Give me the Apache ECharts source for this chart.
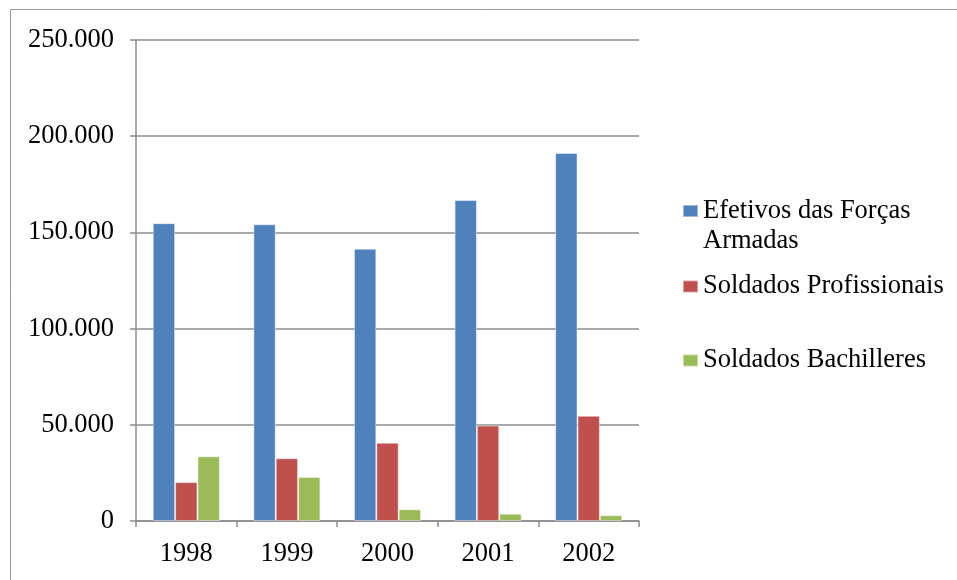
<!DOCTYPE html>
<html>
<head>
<meta charset="utf-8">
<script src="https://cdn.jsdelivr.net/npm/echarts@6/dist/echarts.min.js"></script>
<style>
    html, body { margin: 0; padding: 0; background: #fff; }
    #main { width: 957px; height: 580px; }
</style>
</head>
<body>
<div id="main"></div>
<script>
// anos e valores
var anos = ['1998', '1999', '2000', '2001', '2002'];
var efetivos = [154800, 154200, 141500, 166800, 191300];
var profissionais = [20200, 32600, 40700, 49600, 54700];
var bachilleres = [33600, 22900, 6100, 3800, 3000];

var nomes = ['Efetivos das Forças\nArmadas', 'Soldados Profissionais', 'Soldados Bachilleres'];
var cores = ['#4F81BD', '#C0504D', '#9BBB59'];

var fonte = '"Liberation Serif", "Times New Roman", serif';
var cinza = '#8c8c8c';
var tam = 26.5;

// 150000 -> "150.000"
function milhar(v) {
    return String(v).replace(/\B(?=(\d{3})+(?!\d))/g, '.');
}

var myChart = echarts.init(document.getElementById('main'));

var legendBase = {
    orient: 'vertical',
    left: 682,
    padding: 0,
    itemWidth: 15,
    itemHeight: 12,
    icon: 'rect',
    selectedMode: false,
    textStyle: { fontFamily: fonte, fontSize: tam, color: '#000' }
};

var option = {
    animation: false,
    graphic: [{
        type: 'rect',
        shape: { x: 10.5, y: 9.5, width: 960, height: 600 },
        style: { fill: 'none', stroke: '#999', lineWidth: 1 },
        silent: true
    }],
    legend: [
        Object.assign({}, legendBase, {
            top: 166,
            data: [nomes[0]],
            // linha vazia em cima para o quadrado ficar na altura da primeira linha
            formatter: function (name) { return '\n' + name; },
            textStyle: { fontFamily: fonte, fontSize: tam, color: '#000', lineHeight: 30 }
        }),
        Object.assign({}, legendBase, { top: 273, data: [nomes[1]] }),
        Object.assign({}, legendBase, { top: 347, data: [nomes[2]] })
    ],
    grid: {
        left: 136,
        right: 318,
        top: 40,
        bottom: 59,
        containLabel: false
    },
    xAxis: [{
        type: 'category',
        data: anos,
        axisLine: { lineStyle: { color: cinza, width: 1.5 } },
        axisTick: { show: true, length: 6, lineStyle: { color: cinza, width: 1.5 } },
        axisLabel: { color: '#000', fontFamily: fonte, fontSize: tam, margin: 20 }
    }],
    yAxis: [{
        type: 'value',
        min: 0,
        max: 250000,
        interval: 50000,
        axisLine: { show: true, lineStyle: { color: cinza, width: 1.5 } },
        axisTick: { show: true, length: 6, lineStyle: { color: cinza, width: 1.5 } },
        splitLine: { lineStyle: { color: cinza, width: 1.5 } },
        axisLabel: {
            color: '#000', fontFamily: fonte, fontSize: tam, margin: 22,
            formatter: function (v) { return milhar(v); }
        }
    }],
    series: [
        {
            name: nomes[0], type: 'bar', data: efetivos,
            barGap: 0, barCategoryGap: '33.3%',
            itemStyle: { color: cores[0], borderColor: 'rgba(255,255,255,0.45)', borderWidth: 1 }
        },
        {
            name: nomes[1], type: 'bar', data: profissionais,
            barGap: 0, barCategoryGap: '33.3%',
            itemStyle: { color: cores[1], borderColor: 'rgba(255,255,255,0.45)', borderWidth: 1 }
        },
        {
            name: nomes[2], type: 'bar', data: bachilleres,
            barGap: 0, barCategoryGap: '33.3%',
            itemStyle: { color: cores[2], borderColor: 'rgba(255,255,255,0.45)', borderWidth: 1 }
        }
    ]
};

myChart.setOption(option);
</script>
</body>
</html>
